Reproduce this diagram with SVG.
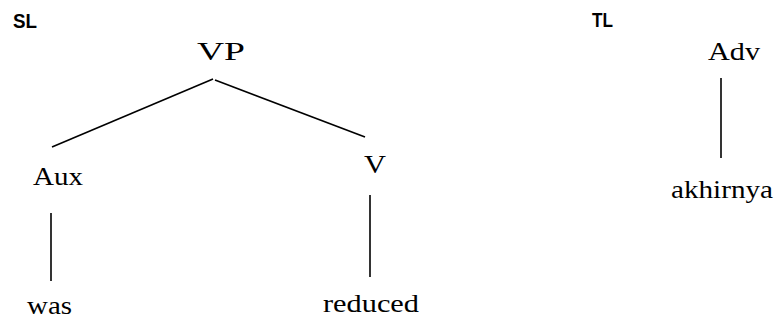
<svg xmlns="http://www.w3.org/2000/svg" width="776" height="320" viewBox="0 0 776 320">
<style>
.lbl{font-family:"Liberation Sans",Arial,sans-serif;font-weight:bold;font-size:20px;fill:#000}
.t{font-family:"Liberation Serif","Times New Roman",serif;font-size:26px;fill:#000}
.e{stroke:#000;stroke-width:1.6;fill:none}
</style>
<rect width="776" height="320" fill="#fff"/>
<g id="SL"><text class="lbl" x="13" y="28" textLength="24" lengthAdjust="spacingAndGlyphs">SL</text></g>
<g id="TL"><text class="lbl" x="592" y="27" textLength="21" lengthAdjust="spacingAndGlyphs">TL</text></g>
<g id="connectors">
<line class="e" x1="213" y1="79" x2="52" y2="147"/>
<line class="e" x1="215" y1="80" x2="365" y2="137"/>
<line class="e" x1="51" y1="213" x2="51" y2="281"/>
<line class="e" x1="370" y1="195" x2="370" y2="277"/>
<line class="e" x1="721" y1="78" x2="721" y2="158"/>
</g>
<g id="VP"><text class="t" x="197" y="60" textLength="48" lengthAdjust="spacingAndGlyphs">VP</text></g>
<g id="Aux"><text class="t" x="33" y="185" textLength="50" lengthAdjust="spacingAndGlyphs">Aux</text></g>
<g id="V"><text class="t" x="364" y="173" textLength="22" lengthAdjust="spacingAndGlyphs">V</text></g>
<g id="was"><text class="t" x="27" y="314" textLength="45" lengthAdjust="spacingAndGlyphs">was</text></g>
<g id="reduced"><text class="t" x="323" y="312" textLength="96" lengthAdjust="spacingAndGlyphs">reduced</text></g>
<g id="Adv"><text class="t" x="708" y="60" textLength="52" lengthAdjust="spacingAndGlyphs">Adv</text></g>
<g id="akhirnya"><text class="t" x="671" y="198" textLength="102" lengthAdjust="spacingAndGlyphs">akhirnya</text></g>
</svg>
